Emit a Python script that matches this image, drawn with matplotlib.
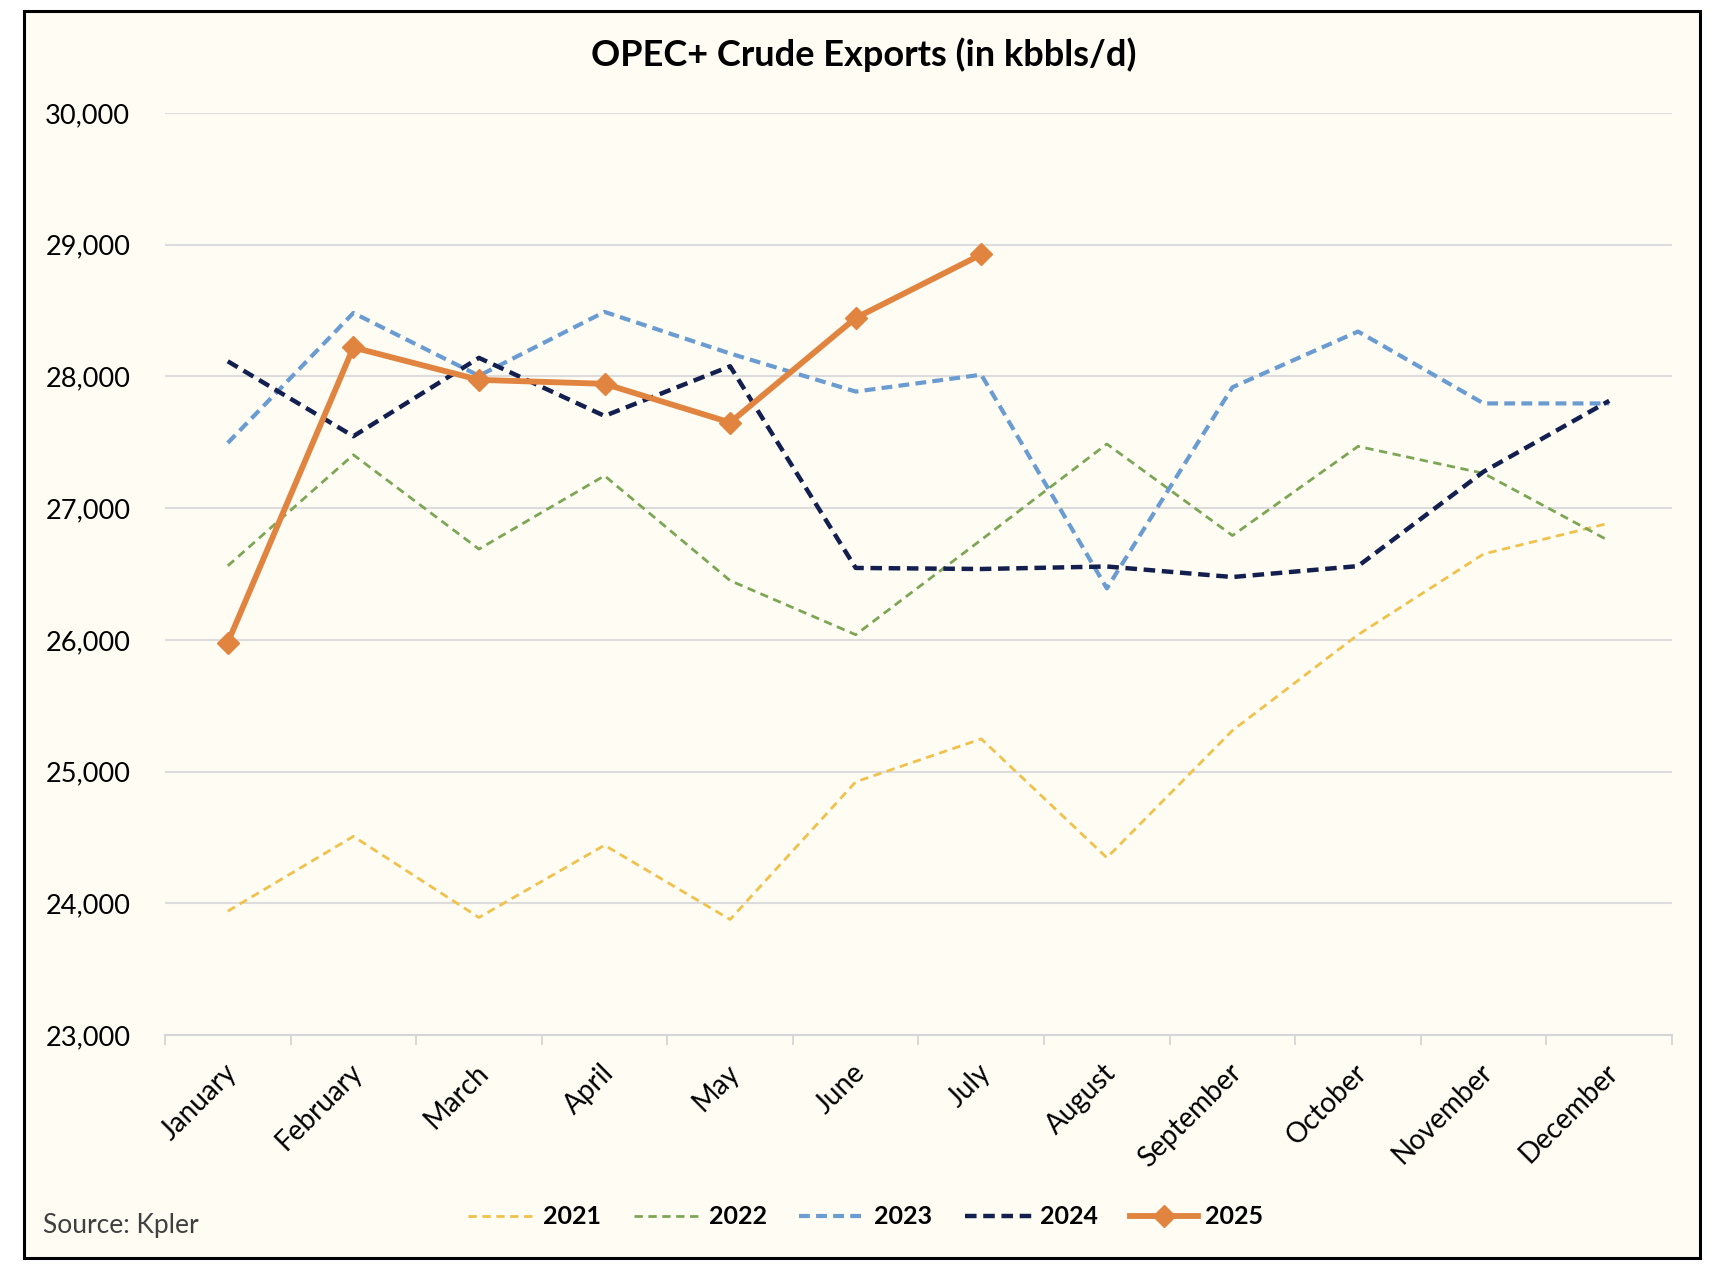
import matplotlib
matplotlib.use("Agg")
import matplotlib.pyplot as plt
import matplotlib.transforms as mtransforms
from matplotlib.patches import Rectangle
from matplotlib.ticker import FuncFormatter
import numpy as np

plt.rcParams['font.family'] = ['Lato', 'DejaVu Sans']

# ---------------- data ----------------
months = ['January', 'February', 'March', 'April', 'May', 'June', 'July',
          'August', 'September', 'October', 'November', 'December']
y2021 = [23940, 24508, 23892, 24441, 23877, 24922, 25248, 24346, 25312, 26039, 26652, 26886]
y2022 = [26562, 27405, 26689, 27246, 26450, 26039, 26760, 27487, 26792, 27469, 27264, 26751]
y2023 = [27495, 28482, 28005, 28490, 28174, 27885, 28013, 26391, 27918, 28341, 27795, 27795]
y2024 = [28115, 27546, 28141, 27700, 28077, 26546, 26538, 26557, 26477, 26560, 27277, 27815]
y2025 = [25979, 28220, 27974, 27944, 27650, 28444, 28926]
series_labels = ['2021', '2022', '2023', '2024', '2025']
yticks = [23000, 24000, 25000, 26000, 27000, 28000, 29000, 30000]
title = 'OPEC+ Crude Exports (in kbbls/d)'
source = 'Source: Kpler'

W, H = 1732, 1276
fig = plt.figure(figsize=(W / 100, H / 100), dpi=100)
fig.patch.set_facecolor('white')

cream = '#fefcf3'
fig.patches.append(Rectangle((24 / W, 1 - 1258 / H), (1700 - 24) / W, (1258 - 11) / H,
                             transform=fig.transFigure, facecolor=cream,
                             edgecolor='black', linewidth=2.2, zorder=-5))

ax = fig.add_axes([165 / W, 1 - 1035 / H, (1672 - 165) / W, (1035 - 113) / H])
ax.set_facecolor('none')
ax.set_zorder(2)

x = np.arange(len(months))
styles = [
    dict(color='#f0c14b', lw=2.0, dashes=(3.0, 2.0)),
    dict(color='#7ca655', lw=2.0, dashes=(3.0, 2.0)),
    dict(color='#6a9bd1', lw=3.0, dashes=(2.6, 1.5)),
    dict(color='#13204f', lw=3.2, dashes=(2.6, 1.5)),
]
for vals, lab, st in zip([y2021, y2022, y2023, y2024], series_labels[:4], styles):
    ax.plot(x[:len(vals)], vals, color=st['color'], lw=st['lw'], dashes=st['dashes'],
            label=lab, zorder=3, solid_capstyle='butt', dash_capstyle='butt')
ax.plot(x[:len(y2025)], y2025, color='#e0843f', lw=4.2, marker='D', markersize=11,
        label=series_labels[4], zorder=4)

ax.set_xlim(-0.5, len(months) - 0.5)
ax.set_ylim(yticks[0], yticks[-1])
ax.set_yticks(yticks)
ax.yaxis.set_major_formatter(FuncFormatter(lambda v, p: f'{int(v):,}'))
ax.tick_params(axis='y', length=0, pad=25, labelsize=19.5, labelcolor='black')
ax.grid(axis='y', color='#dcdcdc', lw=1.5, zorder=1)
ax.set_axisbelow(True)

for s in ['top', 'right', 'left']:
    ax.spines[s].set_visible(False)
ax.spines['bottom'].set_color('#d6d6d6')
ax.spines['bottom'].set_linewidth(1.5)

ax.set_xticks(np.arange(-0.5, len(months), 1.0))
ax.set_xticklabels([])
ax.tick_params(axis='x', which='major', length=7, width=1.3, color='#d6d6d6', direction='out')
ax.set_xticks(x, minor=True)
ax.set_xticklabels(months, minor=True, rotation=45, ha='right', va='center',
                   rotation_mode='anchor', fontsize=20)
ax.tick_params(axis='x', which='minor', length=0, pad=24)
offset = mtransforms.ScaledTranslation(0.05, 0, fig.dpi_scale_trans)
for lbl in ax.get_xticklabels(minor=True):
    lbl.set_transform(lbl.get_transform() + offset)

fig.text(864 / W, 1 - 55 / H, title, ha='center', va='center', fontsize=26,
         fontweight='bold', color='black')
fig.text(43 / W, 1 - 1226 / H, source, ha='left', va='center', fontsize=19,
         color='#404040')

leg = fig.legend(loc='center', bbox_to_anchor=(866 / W, 1 - 1217 / H), ncol=5,
                 frameon=False, prop={'weight': 'bold', 'size': 18},
                 handlelength=2.7, handletextpad=0.3, columnspacing=1.3)

fig.savefig('out.png', dpi=100, facecolor=fig.get_facecolor())
